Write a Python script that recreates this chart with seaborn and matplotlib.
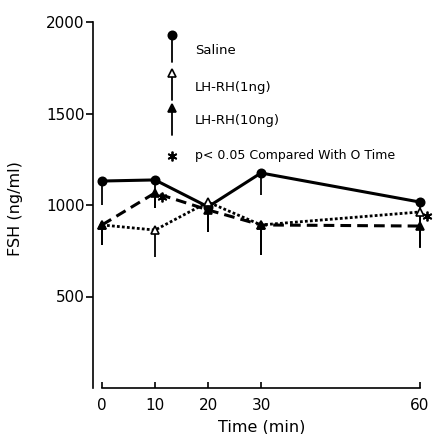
import numpy as np
import pandas as pd
import matplotlib
matplotlib.use("Agg")
import matplotlib.pyplot as plt
import matplotlib.transforms as mtransforms
import seaborn as sns

# ---- data ----
times = [0, 10, 20, 30, 60]
saline = [1131, 1137, 990, 1175, 1016]
saline_err = [131, 153, 138, 120, 200]
lhrh1 = [891, 863, 1016, 891, 962]
lhrh1_err = [110, 147, 164, 164, 192]
lhrh10 = [891, 1066, 973, 891, 885]
lhrh10_err = [110, 82, 121, 164, 120]
sig_times_10ng = [10]
sig_times_1ng = [60]
y_ticks = [500, 1000, 1500, 2000]
x_ticks = [0, 10, 20, 30, 60]

series_names = ["Saline", "LH-RH(1ng)", "LH-RH(10ng)"]
star_text = "p< 0.05 Compared With O Time"

df = pd.DataFrame({
    "time": times * 3,
    "fsh": saline + lhrh1 + lhrh10,
    "err": saline_err + lhrh1_err + lhrh10_err,
    "group": [series_names[0]] * 5 + [series_names[1]] * 5 + [series_names[2]] * 5,
})

sns.set_style("ticks", {"axes.edgecolor": "black", "text.color": "black",
                        "axes.labelcolor": "black", "xtick.color": "black",
                        "ytick.color": "black"})
plt.rcParams["font.family"] = ["DejaVu Sans"]

fig = plt.figure(figsize=(4.34, 4.34), dpi=100)
ax = fig.add_axes([93 / 434, 46 / 434, 327 / 434, 366 / 434])

styles = {
    "Saline": dict(ls="-", marker="o", mfc="black", lw=2.2),
    "LH-RH(1ng)": dict(ls=(0, (1, 0.8)), marker="^", mfc="white", lw=2.0),
    "LH-RH(10ng)": dict(ls=(0, (3.5, 2)), marker="^", mfc="black", lw=2.2),
}

for name in series_names:
    sub = df[df["group"] == name]
    st = styles[name]
    # one-sided (downward) error bars
    ax.errorbar(sub["time"], sub["fsh"], yerr=[sub["err"], np.zeros(len(sub))],
                fmt="none", ecolor="black", elinewidth=1.3, capsize=0,
                clip_on=False, zorder=2)
    sns.lineplot(data=sub, x="time", y="fsh", ax=ax, color="black",
                 linestyle=st["ls"], linewidth=st["lw"], marker=st["marker"],
                 markersize=6, markerfacecolor=st["mfc"], markeredgecolor="black",
                 markeredgewidth=1.2, clip_on=False, zorder=3, legend=False)

# significance stars, slightly offset to the right of the points
star_off = mtransforms.offset_copy(ax.transData, fig=fig, x=7, y=-4, units="dots")
s10 = [lhrh10[times.index(t)] for t in sig_times_10ng]
s1 = [lhrh1[times.index(t)] for t in sig_times_1ng]
ax.plot(sig_times_10ng + sig_times_1ng, s10 + s1, linestyle="none",
        marker=(6, 2, 0), markersize=7, color="black", mew=1.3,
        transform=star_off, clip_on=False, zorder=4)

ax.set_xlim(-1.7, 60)
ax.set_ylim(0, 2000)
ax.set_xticks(x_ticks)
ax.set_yticks(y_ticks)
ax.set_xticklabels([str(t) for t in x_ticks], fontsize=11, color="black")
ax.set_yticklabels([str(t) for t in y_ticks], fontsize=11, color="black")
sns.despine(ax=ax)
ax.spines["left"].set_linewidth(1.2)
ax.spines["bottom"].set_linewidth(1.2)
ax.spines["left"].set_color("black")
ax.spines["bottom"].set_color("black")
ax.spines["bottom"].set_bounds(0, 60)
ax.spines["left"].set_bounds(0, 2000)
ax.tick_params(axis="x", direction="in", length=4, width=1.2, pad=7, colors="black")
ax.tick_params(axis="y", direction="out", length=5, width=1.2, pad=1, colors="black")

ax.set_xlabel("Time (min)", fontsize=11.5, color="black")
ax.set_ylabel("FSH (ng/ml)", fontsize=11.5, color="black")
ax.xaxis.set_label_coords(0.517, -0.085)
ax.yaxis.set_label_coords(-0.215, 0.49)

# hand-made key at top
tr = ax.transAxes
kx, tx = 0.242, 0.312
key = [
    ("o", "black", 0.964, 0.891, 0.923, series_names[0]),
    ("^", "white", 0.861, 0.787, 0.822, series_names[1]),
    ("^", "black", 0.765, 0.691, 0.732, series_names[2]),
]
for mk, fc, ytop, ybot, ytxt, label in key:
    ax.plot([kx, kx], [ytop, ybot], color="black", lw=1.3, transform=tr, clip_on=False)
    ax.plot([kx], [ytop], marker=mk, markersize=6, mfc=fc, mec="black", mew=1.2,
            transform=tr, clip_on=False, linestyle="none")
    ax.text(tx, ytxt, label, transform=tr, fontsize=9.5, va="center", ha="left",
            color="black")
ax.plot([kx], [0.634], marker=(6, 2, 0), markersize=7, color="black", mew=1.3,
        transform=tr, clip_on=False, linestyle="none")
ax.text(tx, 0.634, star_text, transform=tr, fontsize=9, va="center", ha="left",
        color="black")

fig.savefig("out.png", dpi=100, facecolor="white")
